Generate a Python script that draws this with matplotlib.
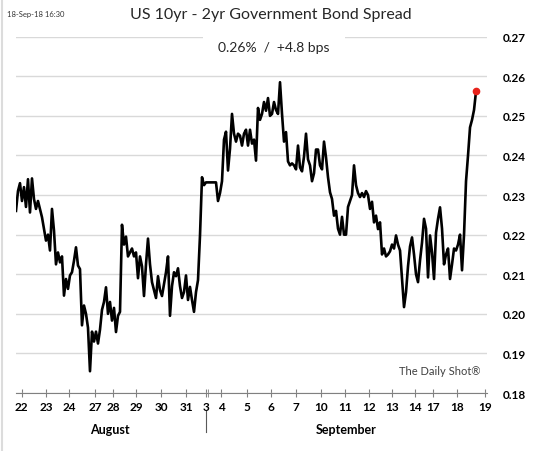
import numpy as np
import matplotlib
matplotlib.use("Agg")
import matplotlib.pyplot as plt
import matplotlib.transforms as mtransforms
from matplotlib.lines import Line2D

# US 10yr - 2yr spread (%), one value per observation, 22-Aug to 18-Sep 16:30
spread = [
    0.226, 0.231, 0.233, 0.2285, 0.232, 0.227, 0.234, 0.2256, 0.2342, 0.229,
    0.2265, 0.2285, 0.2265, 0.2244, 0.2215, 0.2185, 0.220, 0.216, 0.2265, 0.221,
    0.2125, 0.2155, 0.213, 0.2145, 0.2046, 0.2088, 0.2063, 0.2097, 0.2105, 0.2134,
    0.2168, 0.2122, 0.2113, 0.1971, 0.2021, 0.200, 0.1965, 0.1855, 0.1955, 0.193,
    0.1955, 0.1925, 0.196, 0.201, 0.203, 0.2067, 0.200, 0.203, 0.1983, 0.2015,
    0.1954, 0.1995, 0.2005, 0.2225, 0.2175, 0.2195, 0.2145, 0.2155, 0.2165, 0.2145,
    0.2155, 0.209, 0.2145, 0.212, 0.2045, 0.2125, 0.219, 0.2125, 0.208, 0.206,
    0.204, 0.2095, 0.206, 0.2045, 0.2075, 0.2105, 0.2145, 0.1995, 0.207, 0.2105,
    0.2095, 0.2115, 0.207, 0.204, 0.2055, 0.2097, 0.2035, 0.2068, 0.2035, 0.2005,
    0.2055, 0.2085, 0.2198, 0.2345, 0.2325, 0.2332, 0.2332, 0.2332, 0.2332, 0.2332,
    0.2332, 0.2285, 0.2305, 0.2335, 0.244, 0.246, 0.2362, 0.2417, 0.2505, 0.2455,
    0.2435, 0.2455, 0.245, 0.2425, 0.2455, 0.2465, 0.2425, 0.2465, 0.243, 0.244,
    0.2387, 0.252, 0.249, 0.2505, 0.2535, 0.2513, 0.2545, 0.250, 0.2505, 0.2535,
    0.2515, 0.2505, 0.2585, 0.2505, 0.2435, 0.2459, 0.2385, 0.2375, 0.238, 0.2375,
    0.2365, 0.2425, 0.237, 0.236, 0.2397, 0.2455, 0.239, 0.2375, 0.2335, 0.2355,
    0.2415, 0.2415, 0.2375, 0.2365, 0.2435, 0.2395, 0.2345, 0.2307, 0.229, 0.2248,
    0.226, 0.2215, 0.220, 0.2245, 0.220, 0.220, 0.227, 0.2285, 0.230, 0.2375,
    0.2325, 0.2305, 0.2295, 0.2305, 0.2295, 0.231, 0.230, 0.2265, 0.2283, 0.2231,
    0.2248, 0.2214, 0.2231, 0.215, 0.2165, 0.2145, 0.215, 0.2158, 0.2175, 0.2165,
    0.2198, 0.2175, 0.216, 0.2088, 0.2017, 0.2055, 0.212, 0.217, 0.2193, 0.215,
    0.210, 0.208, 0.2135, 0.218, 0.224, 0.2215, 0.2092, 0.2198, 0.2155, 0.2088,
    0.2205, 0.224, 0.2269, 0.2215, 0.2125, 0.215, 0.2165, 0.2088, 0.2125, 0.2165,
    0.216, 0.2175, 0.220, 0.211, 0.220, 0.2335, 0.240, 0.2471, 0.249, 0.2515,
    0.2562,
]

# first observation of each trading day (observation index)
day_labels = ["22", "23", "24", "27", "28", "29", "30", "31", "3", "4", "5",
              "6", "7", "10", "11", "12", "13", "14", "17", "18", "19"]
day_pos = [2.85, 15, 26.65, 39.5, 48.65, 60, 72.5, 85, 95, 102.5, 115.3,
           127.7, 139.75, 152.35, 164.4, 176.5, 188.15, 199.5, 208.65, 220.35, 234.5]
month_break = 96.15
months = ["August", "September"]
month_pos = [47, 165]

title = "US 10yr - 2yr Government Bond Spread"
subtitle = "0.26%  /  +4.8 bps"
stamp = "18-Sep-18 16:30"
source = "The Daily Shot®"

plt.rcParams["font.family"] = ["Lato", "DejaVu Sans"]

fig = plt.figure(figsize=(5.4, 4.52), dpi=100)
ax = fig.add_axes([0.0296, 0.1283, 0.8723, 0.7883])

x = np.arange(len(spread))
ax.plot(x, spread, color="black", lw=1.9, zorder=3)
ax.plot(x[-1], spread[-1], "o", color="#e8221b", ms=4.5, zorder=4)

ax.set_xlim(0, 235.5)
ax.set_ylim(0.18, 0.27)

yt = np.round(np.arange(0.18, 0.2701, 0.01), 2)
ax.set_yticks(yt)
ax.set_yticklabels([f"{v:.2f}" for v in yt], fontweight="bold", fontsize=8.5)
ax.yaxis.tick_right()
ax.tick_params(axis="y", length=0, pad=11)
ax.grid(axis="y", color="#d9d9d9", lw=1)
ax.set_axisbelow(True)

ax.set_xticks(day_pos)
ax.set_xticklabels(day_labels, fontweight="bold", fontsize=8.5)
ax.set_xticks([month_break], minor=True)
ax.tick_params(axis="x", which="both", direction="inout", length=6,
               color="#808080", pad=2.5)

for s in ["top", "left", "right"]:
    ax.spines[s].set_visible(False)
ax.spines["bottom"].set_color("#808080")

trans = mtransforms.blended_transform_factory(ax.transData, ax.transAxes)
for name, pos in zip(months, month_pos):
    ax.text(pos, -0.101, name, transform=trans, ha="center", va="center",
            fontweight="bold", fontsize=9)
ax.plot([day_pos[8] - 0.1] * 2, [-0.05, -0.109], transform=trans,
        clip_on=False, color="#595959", lw=0.8)

fig.text(0.502, 1 - 15.5 / 452, title, ha="center", va="center",
         fontsize=11.5, color="#262626")
fig.text(0.507, 1 - 48 / 452, subtitle, ha="center", va="center",
         fontsize=10, color="#262626",
         bbox=dict(facecolor="white", edgecolor="none", boxstyle="square,pad=1.1"))
fig.text(7 / 540, 1 - 15 / 452, stamp, ha="left", va="center",
         fontsize=5.5, color="#333333")
fig.text(440 / 540, 1 - 372 / 452, source, ha="center", va="center",
         fontsize=8, color="#404040")

fig.add_artist(Line2D([0.003, 0.003], [0, 1], color="#dcdcdc", lw=1.5))

fig.savefig("out.png", dpi=100)
